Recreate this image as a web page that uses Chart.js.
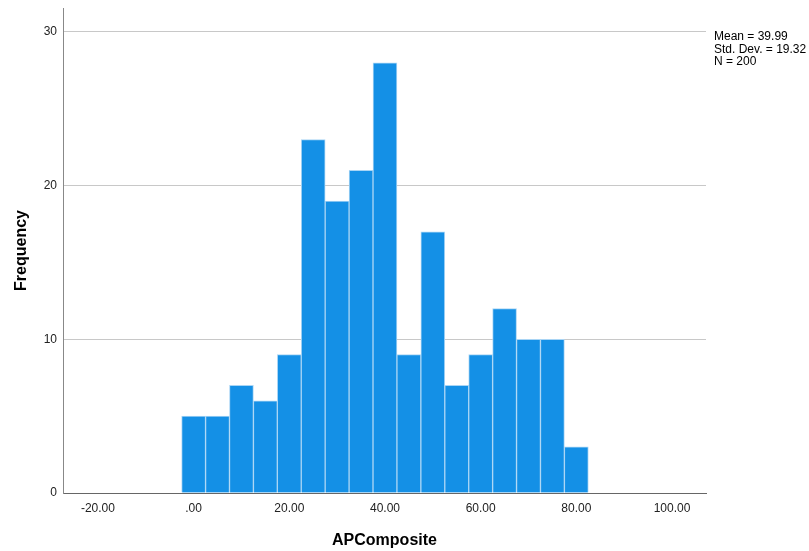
<!DOCTYPE html>
<html lang="en">
<head>
<meta charset="UTF-8">
<title>APComposite histogram</title>
<script src="https://cdn.jsdelivr.net/npm/chart.js"></script>
<style>
  html, body { margin: 0; padding: 0; background: #fff; }
  #wrap { width: 809px; height: 551px; position: relative; }
</style>
</head>
<body>
<div id="wrap"><canvas id="hist"></canvas></div>
<script>
// bin centres (width 5) and counts
const binCenters = [0, 5, 10, 15, 20, 25, 30, 35, 40, 45, 50, 55, 60, 65, 70, 75, 80];
const frequencies = [5, 5, 7, 6, 9, 23, 19, 21, 28, 9, 17, 7, 9, 12, 10, 10, 3];
const xTicks = [-20, 0, 20, 40, 60, 80, 100];
const yTicks = [0, 10, 20, 30];
const statsLines = ['Mean = 39.99', 'Std. Dev. = 19.32', 'N = 200'];

const FONT = 'Arial, "Liberation Sans", sans-serif';

// stats box in the top right corner
const statsPlugin = {
  id: 'stats',
  afterDraw(chart) {
    const ctx = chart.ctx;
    ctx.save();
    ctx.font = '12px ' + FONT;
    ctx.fillStyle = '#000';
    ctx.textBaseline = 'middle';
    statsLines.forEach((s, i) => ctx.fillText(s, 714, 37 + i * 12.5));
    ctx.restore();
  }
};

new Chart(document.getElementById('hist'), {
  type: 'bar',
  data: {
    datasets: [{
      data: binCenters.map((c, i) => ({ x: c, y: frequencies[i] })),
      backgroundColor: '#1490e6',
      borderColor: '#a9d5f5',
      borderWidth: 1,
      barPercentage: 1,
      categoryPercentage: 1,
      grouped: false
    }]
  },
  options: {
    responsive: true,
    maintainAspectRatio: false,
    animation: false,
    layout: { padding: { left: 8, right: 103, top: 8, bottom: 0 } },
    plugins: { legend: { display: false }, tooltip: { enabled: false } },
    scales: {
      x: {
        type: 'linear',
        offset: false,
        min: -27.3,
        max: 107.1,
        afterBuildTicks: s => { s.ticks = xTicks.map(v => ({ value: v })); },
        afterFit: s => { s.height = 58; },
        grid: { display: false, drawTicks: false },
        border: { color: '#666', width: 1 },
        ticks: {
          padding: 8,
          color: '#222',
          font: { family: FONT, size: 12 },
          maxRotation: 0,
          callback: v => v === 0 ? '.00' : v.toFixed(2)
        },
        title: {
          display: true,
          text: 'APComposite',
          color: '#000',
          font: { family: FONT, size: 16, weight: 'bold' },
          padding: { top: 17, bottom: 1 }
        }
      },
      y: {
        min: 0,
        max: 31.56,
        afterBuildTicks: s => { s.ticks = yTicks.map(v => ({ value: v })); },
        afterFit: s => { s.width = 55; s.paddingTop = 0; s.paddingBottom = 0; },
        grid: {
          drawTicks: false,
          color: ctx => ctx.tick && ctx.tick.value === 0 ? 'rgba(0,0,0,0)' : '#c8c8c8'
        },
        border: { color: '#888', width: 1 },
        ticks: {
          padding: 6,
          color: '#222',
          font: { family: FONT, size: 12 }
        },
        title: {
          display: true,
          text: 'Frequency',
          color: '#000',
          font: { family: FONT, size: 16, weight: 'bold' },
          padding: { bottom: 4 }
        }
      }
    }
  },
  plugins: [statsPlugin]
});
</script>
</body>
</html>
